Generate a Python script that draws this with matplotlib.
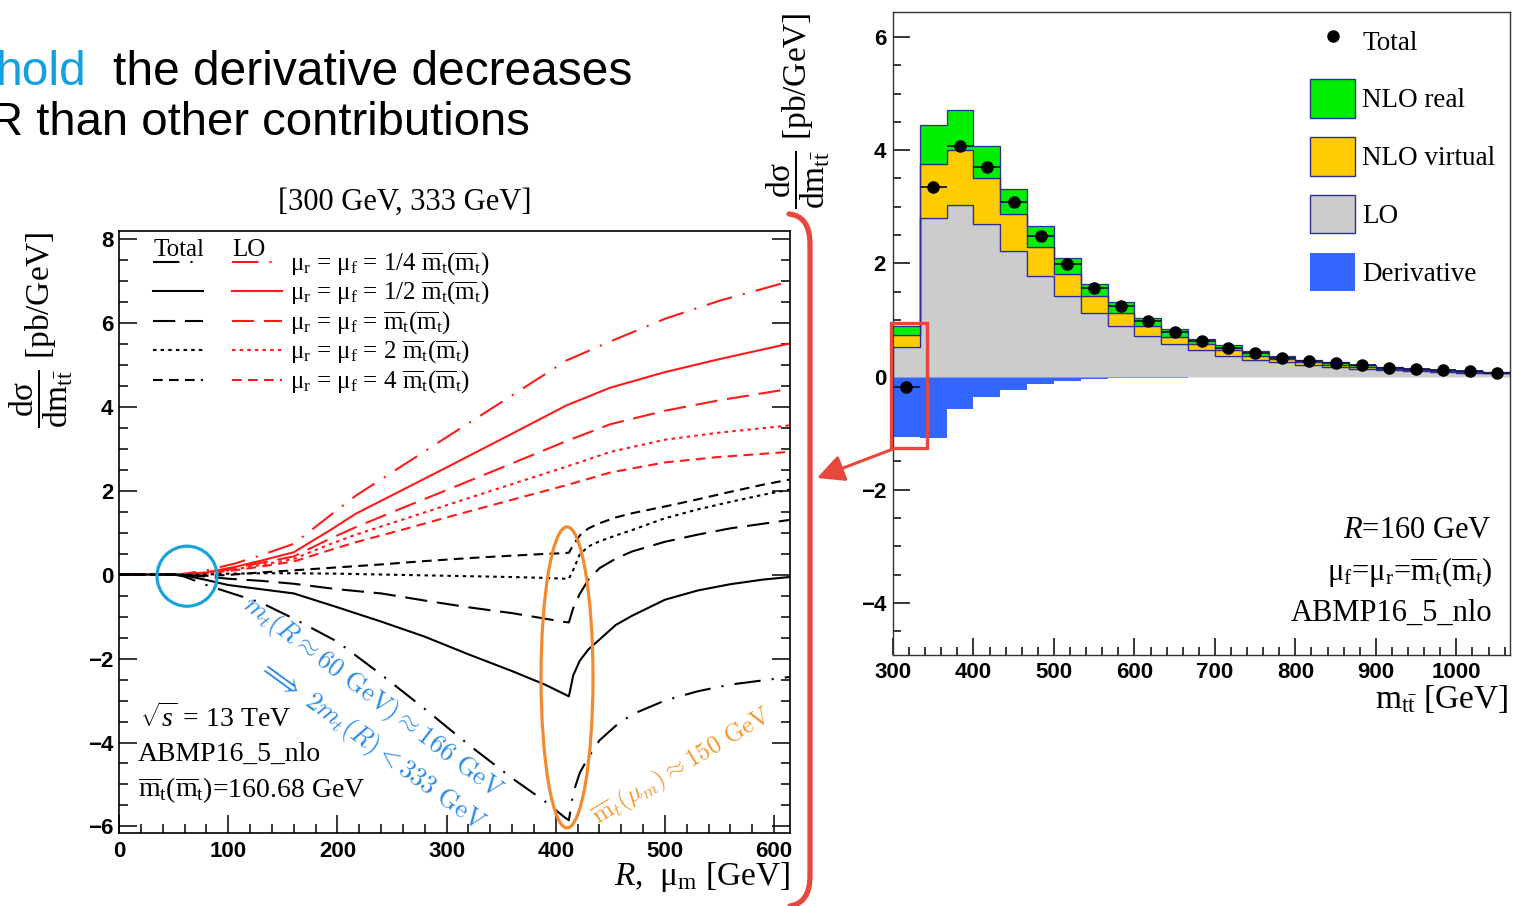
import numpy as np
import matplotlib
matplotlib.use('Agg')
import matplotlib.pyplot as plt
from matplotlib.patches import Ellipse, Rectangle, FancyArrowPatch, PathPatch, Patch
from matplotlib.path import Path
from matplotlib.lines import Line2D
from matplotlib.legend_handler import HandlerTuple
from matplotlib.ticker import MultipleLocator

plt.rcParams['font.family'] = ['Liberation Serif', 'DejaVu Serif']
plt.rcParams['mathtext.fontset'] = 'custom'
plt.rcParams['mathtext.rm'] = 'Liberation Serif'
plt.rcParams['mathtext.it'] = 'Liberation Serif:italic'
plt.rcParams['mathtext.bf'] = 'Liberation Serif:bold'
plt.rcParams['lines.scale_dashes'] = False

# ---- left panel: bin [300, 333] GeV vs R (= mu_m) ----
r_lo = [0, 55, 80, 106, 130, 160, 193, 217, 260, 300, 350, 410, 450, 500, 550, 614]
lo_quarter = [0, 0, 0.1, 0.26, 0.46, 0.73, 1.40, 1.88, 2.6, 3.27, 4.1, 5.1, 5.55, 6.09, 6.52, 6.98]
lo_half = [0, 0, 0.05, 0.18, 0.33, 0.53, 1.05, 1.45, 2.02, 2.55, 3.22, 4.03, 4.45, 4.82, 5.13, 5.5]
lo_one = [0, 0, 0.04, 0.15, 0.28, 0.43, 0.85, 1.13, 1.59, 2.01, 2.54, 3.18, 3.58, 3.9, 4.15, 4.42]
lo_two = [0, 0, 0.03, 0.12, 0.23, 0.37, 0.72, 0.95, 1.31, 1.65, 2.07, 2.57, 2.92, 3.21, 3.38, 3.55]
lo_four = [0, 0, 0.03, 0.1, 0.19, 0.31, 0.58, 0.77, 1.07, 1.36, 1.71, 2.13, 2.43, 2.67, 2.8, 2.92]

r_tot = [0, 50, 60, 80, 100, 130, 160, 200, 240, 280, 320, 360, 390, 408, 412,
         416, 422, 430, 440, 455, 470, 500, 530, 560, 590, 614]
tot_quarter = [0, 0, -0.05, -0.25, -0.42, -0.67, -1.05, -1.6, -2.38, -3.2, -4.05, -4.85, -5.4, -5.78, -5.85,
               -5.2, -4.72, -4.35, -3.95, -3.6, -3.33, -3.0, -2.78, -2.62, -2.52, -2.44]
tot_half = [0, 0, -0.02, -0.13, -0.25, -0.35, -0.45, -0.78, -1.12, -1.48, -1.9, -2.3, -2.62, -2.85, -2.9,
            -2.4, -2.05, -1.78, -1.55, -1.2, -0.98, -0.6, -0.38, -0.23, -0.12, -0.06]
tot_one = [0, 0, -0.01, -0.05, -0.1, -0.15, -0.22, -0.35, -0.45, -0.62, -0.78, -0.92, -1.05, -1.13, -1.14,
           -0.8, -0.46, -0.12, 0.15, 0.38, 0.55, 0.78, 0.95, 1.1, 1.21, 1.3]
tot_two = [0, 0, -0.01, 0.0, 0.02, 0.03, 0.03, 0.02, 0.0, -0.02, -0.04, -0.06, -0.08, -0.1, -0.1,
           0.11, 0.48, 0.67, 0.79, 0.93, 1.06, 1.34, 1.55, 1.73, 1.9, 2.02]
tot_four = [0, 0, -0.02, -0.03, -0.01, 0.05, 0.1, 0.17, 0.24, 0.32, 0.39, 0.45, 0.49, 0.51, 0.52,
            0.7, 0.93, 1.1, 1.22, 1.36, 1.46, 1.62, 1.79, 1.97, 2.14, 2.26]

scale_names = ['1/4 ', '1/2 ', '', '2 ', '4 ']

# ---- right panel: m_ttbar distribution, R = 160 GeV ----
bin_edges = [300, 333.3, 366.7, 400, 433.3, 466.7, 500, 533.3, 566.7, 600, 633.3, 666.7,
             700, 733.3, 766.7, 800, 833.3, 866.7, 900, 933.3, 966.7, 1000, 1033.3, 1066.7]
lo = [0.53, 2.80, 3.03, 2.69, 2.22, 1.78, 1.42, 1.13, 0.89, 0.71, 0.57, 0.46,
      0.37, 0.30, 0.25, 0.21, 0.17, 0.14, 0.12, 0.10, 0.08, 0.07, 0.06]
nlo_virtual = [0.21, 0.95, 0.98, 0.81, 0.65, 0.50, 0.39, 0.29, 0.24, 0.18, 0.13, 0.11,
               0.10, 0.07, 0.06, 0.04, 0.04, 0.03, 0.02, 0.02, 0.02, 0.01, 0.01]
nlo_real = [0.16, 0.69, 0.69, 0.58, 0.45, 0.38, 0.29, 0.21, 0.18, 0.15, 0.14, 0.10,
            0.08, 0.08, 0.06, 0.05, 0.04, 0.04, 0.03, 0.02, 0.02, 0.02, 0.01]
derivative = [-1.07, -1.08, -0.58, -0.36, -0.23, -0.14, -0.08, -0.05, -0.035, -0.025, -0.018, -0.013,
              -0.01, -0.008, -0.006, -0.005, -0.004, -0.003, -0.003, -0.002, -0.002, -0.002, -0.001]
total = [-0.19, 3.34, 4.08, 3.70, 3.09, 2.48, 1.98, 1.57, 1.24, 0.98, 0.79, 0.63,
         0.51, 0.42, 0.33, 0.28, 0.23, 0.20, 0.15, 0.13, 0.11, 0.09, 0.07]

styles = [(0, (19, 8, 1.5, 8)), '-', (0, (16, 7)), (0, (2.5, 3)), (0, (7, 4.5))]
red = '#ff1a1a'
navy = '#2d2d96'
tick_font = dict(fontsize=16, fontweight='bold', fontfamily='Liberation Sans')

fig = plt.figure(figsize=(15.13, 9.06), dpi=100)

# ================= left panel =================
ax = fig.add_axes([119 / 1513, 1 - 833 / 906, 671 / 1513, 602 / 906])
ax.set_xlim(0, 614.5)
ax.set_ylim(-6.155, 8.18)

lo_curves = [lo_quarter, lo_half, lo_one, lo_two, lo_four]
tot_curves = [tot_quarter, tot_half, tot_one, tot_two, tot_four]
for ys, ls in zip(lo_curves, styles):
    ax.plot(r_lo, ys, color=red, ls=ls, lw=1.5)
for ys, ls in zip(tot_curves, styles):
    ax.plot(r_tot, ys, color='black', ls=ls, lw=1.5)

ax.set_xticks([0, 100, 200, 300, 400, 500, 600], labels=['0', '100', '200', '300', '400', '500', '600'], **tick_font)
ax.set_yticks([-6, -4, -2, 0, 2, 4, 6, 8], labels=['\u22126', '\u22124', '\u22122', '0', '2', '4', '6', '8'], **tick_font)
ax.xaxis.set_minor_locator(MultipleLocator(20))
ax.yaxis.set_minor_locator(MultipleLocator(0.5))
ax.tick_params(which='both', direction='in', left=True, right=True, top=False, bottom=True, width=1.1)
ax.tick_params(which='major', length=13)
ax.tick_params(which='minor', length=6.5)
ax.tick_params(axis='x', pad=6)
ax.tick_params(axis='y', pad=4)
for s in ax.spines.values():
    s.set_linewidth(1.2)

ax.set_xlabel(r'$R$,  μ$_{\mathrm{m}}$ [GeV]', fontsize=24, loc='right')
ax.xaxis.set_label_coords(1.0, -0.045)
ax.set_ylabel(r'$\dfrac{\mathrm{dσ}}{\mathrm{dm}_{\mathrm{t\bar{t}}}}$ [pb/GeV]', fontsize=24, loc='top')
ax.yaxis.set_label_coords(-0.066, 1.0)
ax.text(0.426, 1.048, '[300 GeV, 333 GeV]', transform=ax.transAxes, ha='center', va='center', fontsize=22)

# legend: Total (black) and LO (red) side by side
leg_handles = []
leg_labels = []
for ls, sc in zip(styles, scale_names):
    leg_handles.append((Line2D([], [], color='black', ls=ls, lw=1.5), Line2D([], [], color=red, ls=ls, lw=1.5)))
    leg_labels.append(r'μ$_{\mathrm{r}}$ = μ$_{\mathrm{f}}$ = ' + sc +
                      r'$\overline{\mathrm{m}}_{\mathrm{t}}$($\overline{\mathrm{m}}_{\mathrm{t}}$)')
ax.legend(leg_handles, leg_labels, handler_map={tuple: HandlerTuple(ndivide=None, pad=1.16)},
          handlelength=5.16, handletextpad=0.32, fontsize=18, frameon=False, loc='upper left',
          bbox_to_anchor=(0.0507, 0.967), borderpad=0, borderaxespad=0, labelspacing=0.1)
ax.text(0.0507, 0.968, 'Total', transform=ax.transAxes, ha='left', va='center', fontsize=18)
ax.text(0.168, 0.968, 'LO', transform=ax.transAxes, ha='left', va='center', fontsize=18)

ax.text(0.031, 0.191, r'$\sqrt{s}$ = 13 TeV', transform=ax.transAxes, ha='left', va='center', fontsize=20)
ax.text(0.028, 0.131, 'ABMP16_5_nlo', transform=ax.transAxes, ha='left', va='center', fontsize=20)
ax.text(0.028, 0.071, r'$\overline{\mathrm{m}}_{\mathrm{t}}$($\overline{\mathrm{m}}_{\mathrm{t}}$)=160.68 GeV',
        transform=ax.transAxes, ha='left', va='center', fontsize=20)

# annotations
ax.add_patch(Ellipse((62.3, -0.04), 55, 1.43, fill=False, ec='#1aa3db', lw=2.3, zorder=5))
ax.add_patch(Ellipse((410.3, -2.45), 47.6, 7.17, fill=False, ec='#f28a30', lw=2.3, zorder=5, clip_on=False))
ax.text(232.6, -2.94, r'$m_t(R\approx 60\ \mathrm{GeV})\approx 166\ \mathrm{GeV}$', color='#2a8be8',
        fontsize=19, rotation=-37, rotation_mode='anchor', ha='center', va='center', math_fontfamily='cm')
ax.text(230.8, -4.06, r'$\Longrightarrow\ 2m_t(R) < 333\ \mathrm{GeV}$', color='#2a8be8',
        fontsize=19, rotation=-36, rotation_mode='anchor', ha='center', va='center', math_fontfamily='cm')
ax.text(515.6, -4.58, r'$\overline{\mathrm{m}}_t(\mu_m)\approx 150\ \mathrm{GeV}$', color='#f5962e',
        fontsize=18, rotation=31, rotation_mode='anchor', ha='center', va='center', math_fontfamily='cm')

# ================= right panel =================
ax2 = fig.add_axes([893 / 1513, 1 - 655 / 906, 617 / 1513, 643 / 906])
ax2.set_xlim(300, 1066.7)
ax2.set_ylim(-4.92, 6.44)

edges = np.array(bin_edges)
lo_a = np.array(lo)
virt_top = lo_a + np.array(nlo_virtual)
real_top = virt_top + np.array(nlo_real)
centers = 0.5 * (edges[1:] + edges[:-1])
half_w = 0.5 * np.diff(edges)

ax2.stairs(derivative, edges, baseline=0, fill=True, facecolor='#3366ff', edgecolor='none', zorder=2)
ax2.stairs(lo_a, edges, baseline=0, fill=True, facecolor='#cccccc', edgecolor=navy, lw=0.9, zorder=2)
ax2.stairs(virt_top, edges, baseline=lo_a, fill=True, facecolor='#ffcc00', edgecolor=navy, lw=0.9, zorder=3)
ax2.stairs(real_top, edges, baseline=virt_top, fill=True, facecolor='#00ee00', edgecolor=navy, lw=0.9, zorder=3)
ax2.errorbar(centers, total, xerr=half_w, fmt='o', color='black', ms=8, ecolor='#15154a',
             elinewidth=1.3, capsize=0, zorder=5)

ax2.set_xticks([300, 400, 500, 600, 700, 800, 900, 1000],
               labels=['300', '400', '500', '600', '700', '800', '900', '1000'], **tick_font)
ax2.set_yticks([-4, -2, 0, 2, 4, 6], labels=['\u22124', '\u22122', '0', '2', '4', '6'], **tick_font)
ax2.xaxis.set_minor_locator(MultipleLocator(20))
ax2.yaxis.set_minor_locator(MultipleLocator(0.5))
ax2.tick_params(which='both', direction='in', left=True, right=False, top=False, bottom=True, width=1.1)
ax2.tick_params(which='major', length=12)
ax2.tick_params(which='minor', length=6)
ax2.tick_params(axis='x', pad=5)
ax2.tick_params(axis='y', pad=5)
for s in ax2.spines.values():
    s.set_linewidth(1.0)
    s.set_color('#333333')

ax2.set_xlabel(r'm$_{\mathrm{t\bar{t}}}$ [GeV]', fontsize=24, loc='right')
ax2.xaxis.set_label_coords(0.997, -0.0435)
ax2.set_ylabel(r'$\dfrac{\mathrm{dσ}}{\mathrm{dm}_{\mathrm{t\bar{t}}}}$ [pb/GeV]', fontsize=24, loc='top')
ax2.yaxis.set_label_coords(-0.099, 1.0)

r_handles = [Line2D([], [], marker='o', color='black', ls='none', ms=8),
             Patch(facecolor='#00ee00', edgecolor=navy),
             Patch(facecolor='#ffcc00', edgecolor=navy),
             Patch(facecolor='#cccccc', edgecolor=navy),
             Patch(facecolor='#3366ff', edgecolor='none')]
ax2.legend(r_handles, ['Total', 'NLO real', 'NLO virtual', 'LO', 'Derivative'], loc='upper left',
           bbox_to_anchor=(0.676, 0.985), frameon=False, fontsize=19.5, handlelength=1.67,
           handleheight=1.8, labelspacing=0.72, handletextpad=0.26, borderpad=0, borderaxespad=0)

ax2.text(0.971, 0.194, r'$R$=160 GeV', transform=ax2.transAxes, ha='right', va='center', fontsize=22)
ax2.text(0.971, 0.129, r'μ$_{\mathrm{f}}$=μ$_{\mathrm{r}}$=$\overline{\mathrm{m}}_{\mathrm{t}}$($\overline{\mathrm{m}}_{\mathrm{t}}$)',
         transform=ax2.transAxes, ha='right', va='center', fontsize=22)
ax2.text(0.971, 0.065, 'ABMP16_5_nlo', transform=ax2.transAxes, ha='right', va='center', fontsize=22)

# ================= slide overlay (pixel coordinates) =================
ov = fig.add_axes([0, 0, 1, 1], zorder=10)
ov.set_xlim(0, 1513)
ov.set_ylim(906, 0)
ov.axis('off')

top_font = ['Liberation Sans', 'DejaVu Sans']
ov.text(86, 85, 'hold', color='#14a0de', fontsize=34.5, family=top_font, ha='right', va='baseline')
ov.text(113, 85, 'the derivative decreases', color='black', fontsize=34.5, family=top_font, ha='left', va='baseline')
ov.text(-11, 135, 'R than other contributions', color='black', fontsize=34, family=top_font, ha='left', va='baseline')

bracket = Path([(789, 214), (810, 216), (810, 244), (810, 876), (810, 903), (790, 906)],
               [Path.MOVETO, Path.CURVE3, Path.CURVE3, Path.LINETO, Path.CURVE3, Path.CURVE3])
ov.add_patch(PathPatch(bracket, fill=False, ec='#e8483c', lw=3.8, capstyle='round'))
ov.add_patch(Rectangle((891, 323), 36, 125, fill=False, ec='#e8483c', lw=2.4))
ov.add_patch(FancyArrowPatch((893, 449), (817, 478), arrowstyle='-|>,head_length=1.1,head_width=0.55',
                             mutation_scale=15, color='#e8483c', lw=2.2, shrinkA=0, shrinkB=0))

fig.savefig('out.png', dpi=100)
